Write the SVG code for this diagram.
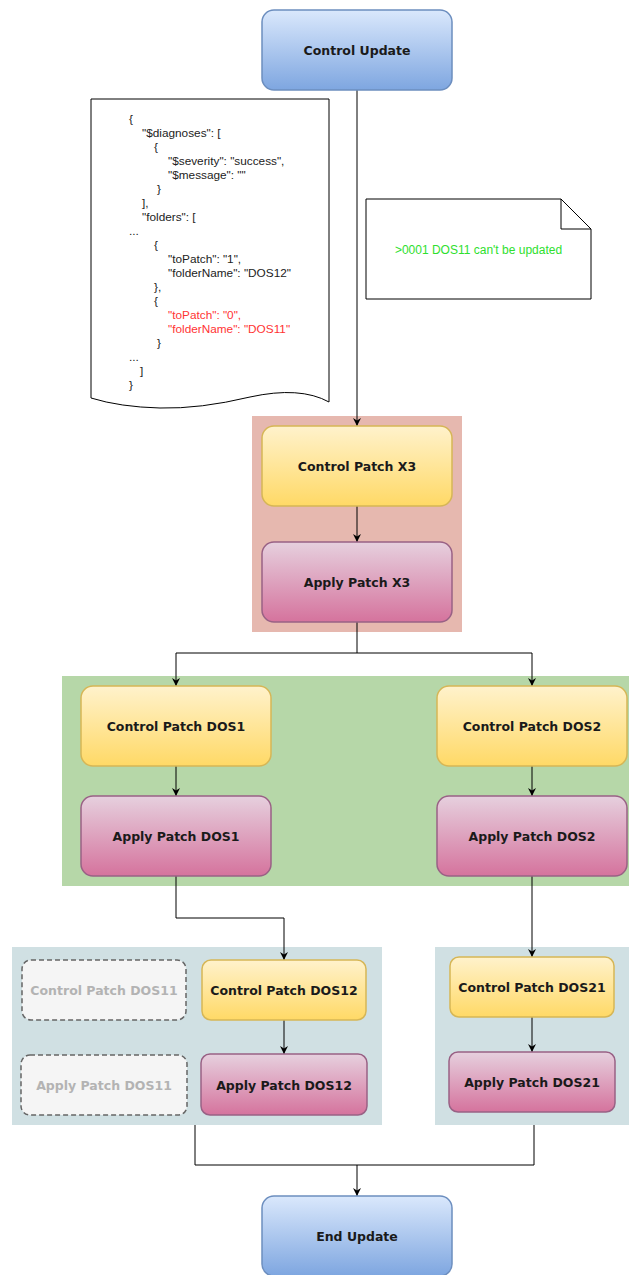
<svg xmlns="http://www.w3.org/2000/svg" width="629" height="1275" viewBox="0 0 629 1275">
<defs>
<linearGradient id="gBlue" x1="0" y1="0" x2="0" y2="1"><stop offset="0" stop-color="#dae8fc"/><stop offset="1" stop-color="#7ea6e0"/></linearGradient>
<linearGradient id="gYel" x1="0" y1="0" x2="0" y2="1"><stop offset="0" stop-color="#fff2cc"/><stop offset="1" stop-color="#ffd966"/></linearGradient>
<linearGradient id="gPink" x1="0" y1="0" x2="0" y2="1"><stop offset="0" stop-color="#e6d0de"/><stop offset="1" stop-color="#d5739d"/></linearGradient>
<marker id="arr" viewBox="0 0 10 10" refX="10" refY="5" markerWidth="8" markerHeight="8" markerUnits="userSpaceOnUse" orient="auto"><path d="M0,0 L10,5 L0,10 L3,5 Z" fill="#000"/></marker>
</defs>
<style>
.blue{fill:url(#gBlue);stroke:#6c8ebf;stroke-width:1.5}
.yel{fill:url(#gYel);stroke:#d6b656;stroke-width:1.5}
.pink{fill:url(#gPink);stroke:#996185;stroke-width:1.5}
.dash{fill:#f5f5f5;stroke:#666;stroke-width:1.5;stroke-dasharray:5 3}
.lbl{font-family:"DejaVu Sans",sans-serif;font-weight:bold;font-size:12.5px;fill:#1a1a1a;text-anchor:middle;dominant-baseline:central}
.lblg{fill:#b3b3b3}
.json{font-family:"Liberation Sans",Arial,sans-serif;font-size:11.8px;fill:#222}
.red{fill:#ff3333}
.conn{fill:none;stroke:#000;stroke-width:1}
</style>
<g id="containers">
<rect id="grpX3" x="252" y="416" width="210" height="216" fill="#e6b8af"/>
<rect id="grpDOS" x="62" y="676" width="567" height="210" fill="#b6d7a8"/>
<rect id="grpDOS1x" x="12" y="947" width="370" height="178" fill="#d0e0e3"/>
<rect id="grpDOS2x" x="435" y="947" width="194" height="178" fill="#d0e0e3"/>
</g>
<g id="doc">
<path d="M91,99 H329 V402 Q300,386 250,397 Q200,409 160,408 Q120,407 91,398 Z" fill="#fff" stroke="#000" stroke-width="1"/>
<text class="json" x="129" y="123">{</text>
<text class="json" x="142" y="137">"$diagnoses": [</text>
<text class="json" x="154" y="151">{</text>
<text class="json" x="168" y="165">"$severity": "success",</text>
<text class="json" x="168" y="179">"$message": ""</text>
<text class="json" x="157" y="193">}</text>
<text class="json" x="142" y="207">],</text>
<text class="json" x="142" y="221">"folders": [</text>
<text class="json" x="129" y="235">...</text>
<text class="json" x="154" y="249">{</text>
<text class="json" x="168" y="263">"toPatch": "1",</text>
<text class="json" x="168" y="277">"folderName": "DOS12"</text>
<text class="json" x="154" y="291">},</text>
<text class="json" x="154" y="305">{</text>
<text class="json red" x="168" y="319">"toPatch": "0",</text>
<text class="json red" x="168" y="333">"folderName": "DOS11"</text>
<text class="json" x="157" y="347">}</text>
<text class="json" x="129" y="361">...</text>
<text class="json" x="140" y="375">]</text>
<text class="json" x="129" y="389">}</text>
</g>
<g id="note">
<path d="M366,199 H561 L591,229 V299 H366 Z" fill="#fff" stroke="#000" stroke-width="1"/>
<path d="M561,199 V229 H591" fill="none" stroke="#000" stroke-width="1"/>
<text x="478.5" y="250" font-family="Liberation Sans, Arial, sans-serif" font-size="12px" fill="#2ee02e" text-anchor="middle" dominant-baseline="central">&gt;0001 DOS11 can't be updated</text>
</g>
<g id="connectors">
<path class="conn" d="M357,90 V426" marker-end="url(#arr)"/>
<path class="conn" d="M357,506 V542" marker-end="url(#arr)"/>
<path class="conn" d="M357,622 V653 H176 V686" marker-end="url(#arr)"/>
<path class="conn" d="M357,653 H532 V686" marker-end="url(#arr)"/>
<path class="conn" d="M176,766 V796" marker-end="url(#arr)"/>
<path class="conn" d="M532,766 V796" marker-end="url(#arr)"/>
<path class="conn" d="M176,876 V918 H284 V960" marker-end="url(#arr)"/>
<path class="conn" d="M532,876 V957" marker-end="url(#arr)"/>
<path class="conn" d="M284,1020 V1054" marker-end="url(#arr)"/>
<path class="conn" d="M532,1017 V1052" marker-end="url(#arr)"/>
<path class="conn" d="M195,1125 V1165 H534 V1125"/>
<path class="conn" d="M357,1165 V1196" marker-end="url(#arr)"/>
</g>
<g id="controlUpdate"><rect class="blue" x="262" y="10" width="190" height="80" rx="12"/><text class="lbl" x="357" y="50">Control Update</text></g>
<g id="controlX3"><rect class="yel" x="262" y="426" width="190" height="80" rx="12"/><text class="lbl" x="357" y="466">Control Patch X3</text></g>
<g id="applyX3"><rect class="pink" x="262" y="542" width="190" height="80" rx="12"/><text class="lbl" x="357" y="582">Apply Patch X3</text></g>
<g id="controlDOS1"><rect class="yel" x="81" y="686" width="190" height="80" rx="12"/><text class="lbl" x="176" y="726">Control Patch DOS1</text></g>
<g id="applyDOS1"><rect class="pink" x="81" y="796" width="190" height="80" rx="12"/><text class="lbl" x="176" y="836">Apply Patch DOS1</text></g>
<g id="controlDOS2"><rect class="yel" x="437" y="686" width="190" height="80" rx="12"/><text class="lbl" x="532" y="726">Control Patch DOS2</text></g>
<g id="applyDOS2"><rect class="pink" x="437" y="796" width="190" height="80" rx="12"/><text class="lbl" x="532" y="836">Apply Patch DOS2</text></g>
<g id="controlDOS11"><rect class="dash" x="22" y="960" width="164" height="60" rx="9"/><text class="lbl lblg" x="104" y="990">Control Patch DOS11</text></g>
<g id="applyDOS11"><rect class="dash" x="21" y="1055" width="166" height="60" rx="9"/><text class="lbl lblg" x="104" y="1085">Apply Patch DOS11</text></g>
<g id="controlDOS12"><rect class="yel" x="202" y="960" width="164" height="60" rx="9"/><text class="lbl" x="284" y="990">Control Patch DOS12</text></g>
<g id="applyDOS12"><rect class="pink" x="201" y="1054" width="166" height="61" rx="9"/><text class="lbl" x="284" y="1085">Apply Patch DOS12</text></g>
<g id="controlDOS21"><rect class="yel" x="450" y="957" width="164" height="60" rx="9"/><text class="lbl" x="532" y="987">Control Patch DOS21</text></g>
<g id="applyDOS21"><rect class="pink" x="449" y="1052" width="166" height="60" rx="9"/><text class="lbl" x="532" y="1082">Apply Patch DOS21</text></g>
<g id="endUpdate"><rect class="blue" x="262" y="1196" width="190" height="80" rx="12"/><text class="lbl" x="357" y="1236">End Update</text></g>
</svg>
